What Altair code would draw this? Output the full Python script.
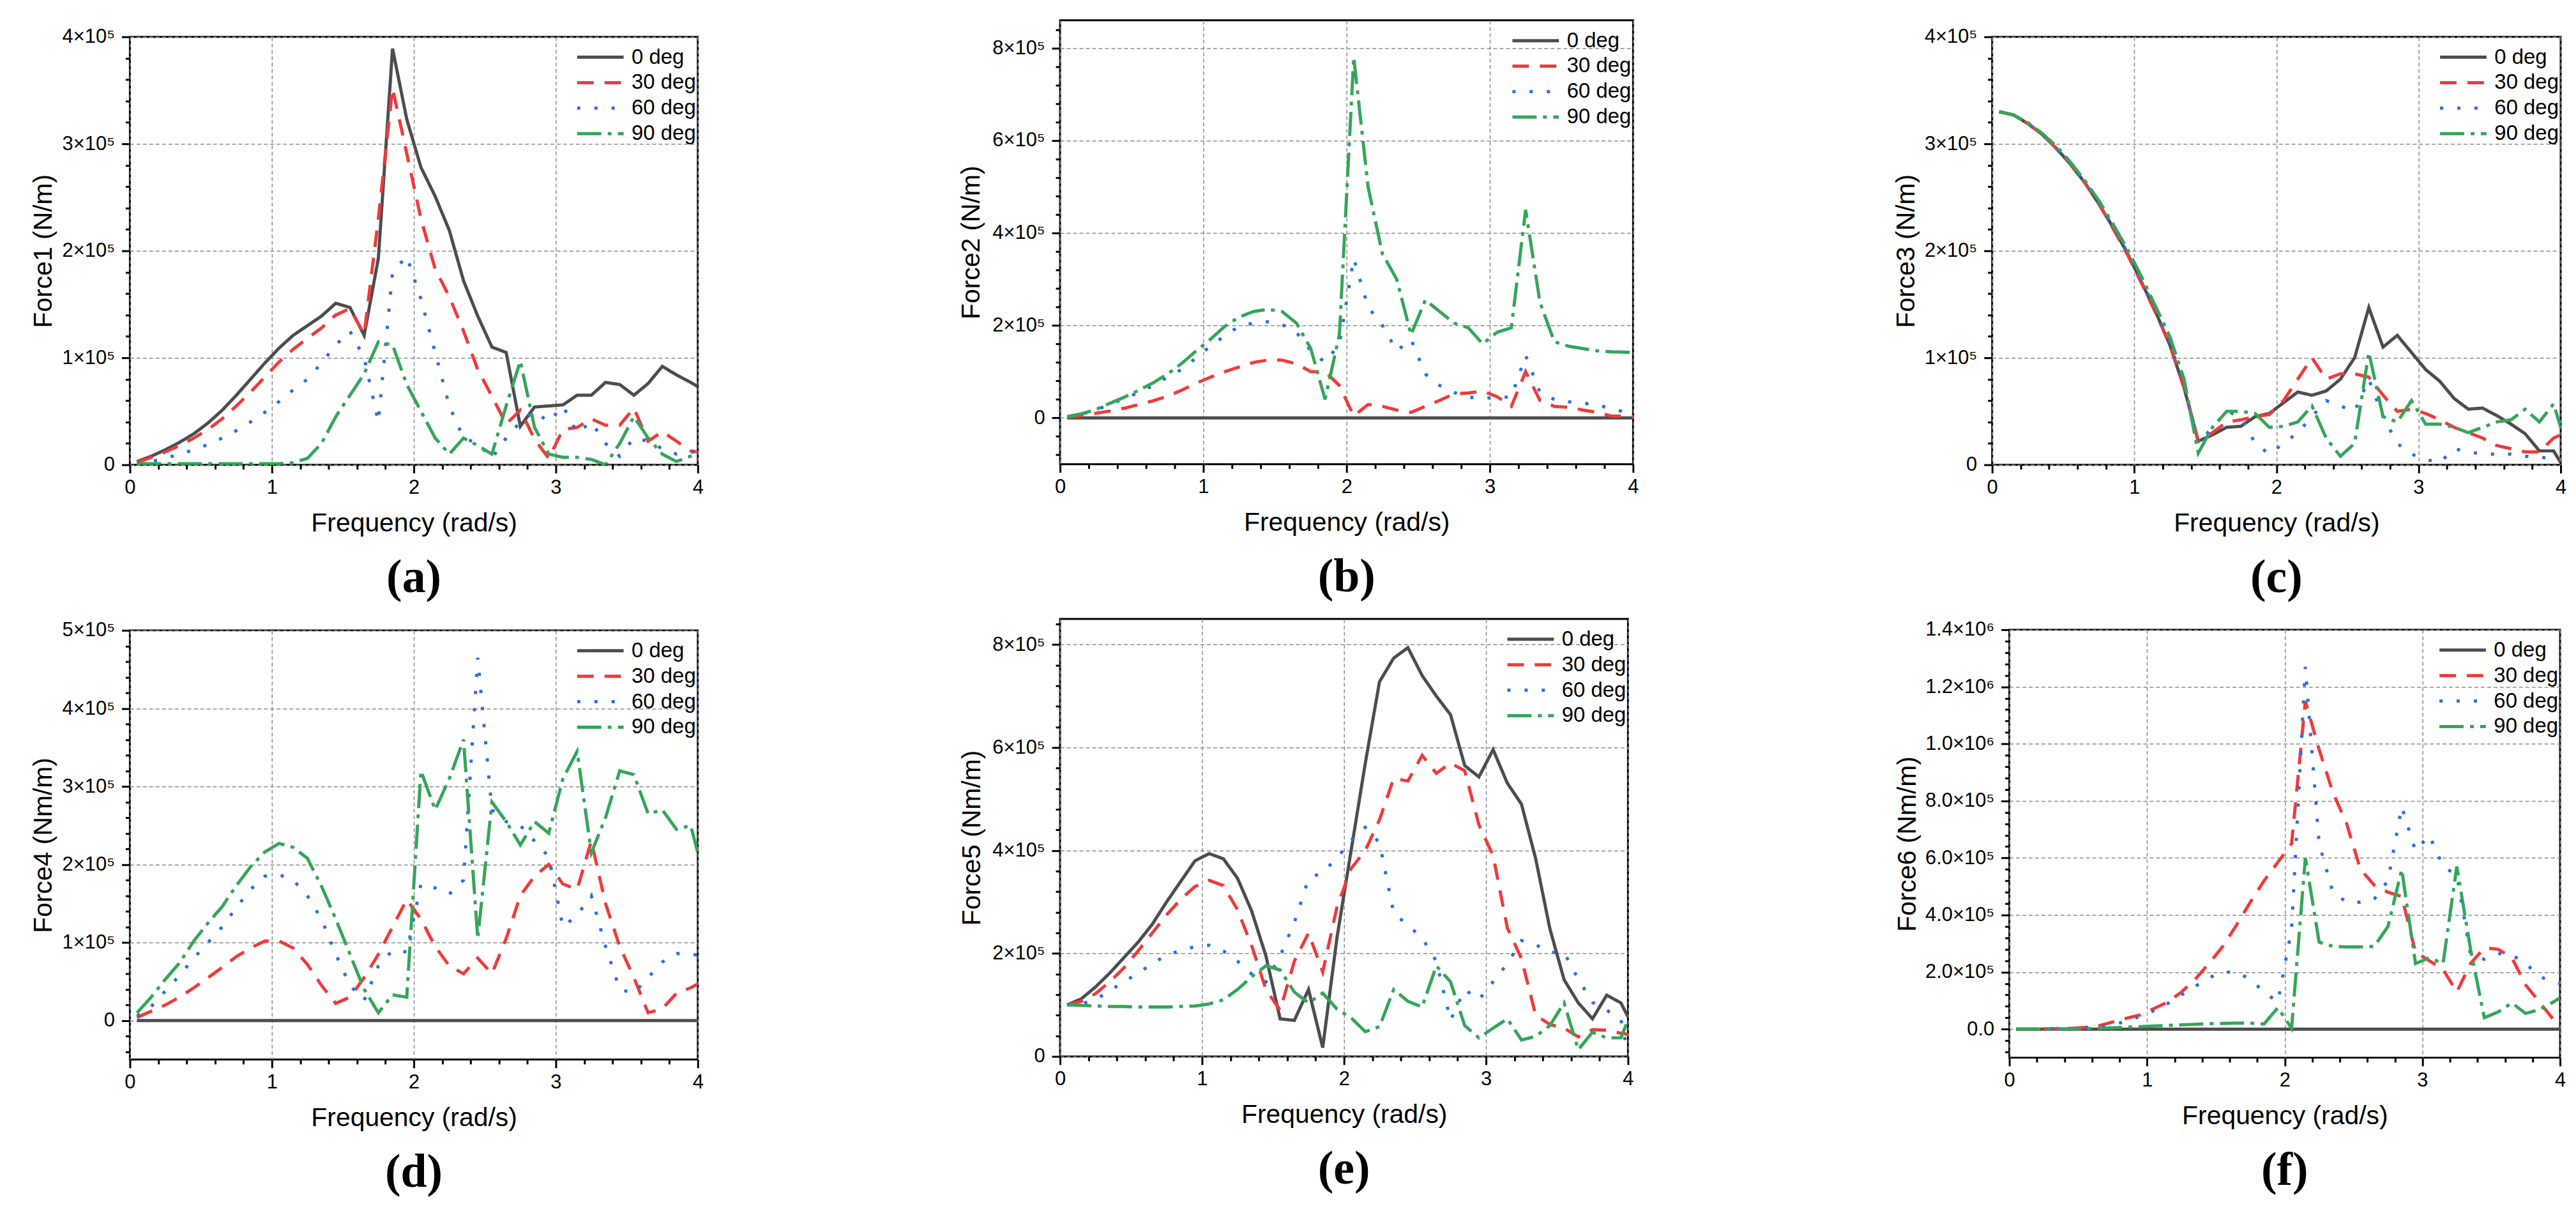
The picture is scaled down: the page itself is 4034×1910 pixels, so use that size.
import math
import altair as alt
import pandas as pd

# ---------------- data ----------------
freq = [0.05, 0.15, 0.25, 0.35, 0.45, 0.55, 0.65, 0.75, 0.85, 0.95,
        1.05, 1.15, 1.25, 1.35, 1.45, 1.55, 1.65, 1.75, 1.85, 1.95,
        2.05, 2.15, 2.25, 2.35, 2.45, 2.55, 2.65, 2.75, 2.85, 2.95,
        3.05, 3.15, 3.25, 3.35, 3.45, 3.55, 3.65, 3.75, 3.85, 3.95, 4.0]
series_names = ["0 deg", "30 deg", "60 deg", "90 deg"]
x_tick_labels = ["0", "1", "2", "3", "4"]

# Panel (a) Force1, unit 1e5 N/m
a_0 = [0.03, 0.08, 0.14, 0.21, 0.29, 0.39, 0.51, 0.65, 0.80, 0.95,
       1.09, 1.21, 1.30, 1.39, 1.51, 1.47, 1.21, 1.93, 3.89, 3.23,
       2.78, 2.51, 2.19, 1.72, 1.39, 1.10, 1.05, 0.36, 0.54, 0.55,
       0.56, 0.65, 0.65, 0.77, 0.75, 0.65, 0.76, 0.92, 0.84, 0.77, 0.73]
a_30 = [0.02, 0.07, 0.12, 0.18, 0.25, 0.33, 0.43, 0.55, 0.68, 0.82,
        0.96, 1.08, 1.18, 1.28, 1.40, 1.46, 1.22, 2.30, 3.52, 2.91,
        2.30, 1.83, 1.57, 1.25, 0.89, 0.64, 0.38, 0.51, 0.24, 0.06,
        0.33, 0.35, 0.43, 0.37, 0.37, 0.53, 0.22, 0.31, 0.22, 0.13, 0.12]
a_60 = [0.01, 0.03, 0.06, 0.10, 0.14, 0.19, 0.25, 0.32, 0.40, 0.49,
        0.59, 0.70, 0.80, 0.95, 1.12, 1.25, 1.00, 0.40, 1.80, 1.95,
        1.55, 1.05, 0.55, 0.25, 0.20, 0.06, 0.25, 0.40, 0.50, 0.40,
        0.55, 0.30, 0.40, 0.20, 0.08, 0.25, 0.22, 0.15, 0.10, 0.12, 0.12]
a_90 = [0.01, 0.01, 0.01, 0.01, 0.01, 0.01, 0.01, 0.01, 0.01, 0.01,
        0.01, 0.02, 0.06, 0.20, 0.45, 0.65, 0.85, 1.15, 1.12, 0.75,
        0.50, 0.25, 0.10, 0.25, 0.18, 0.10, 0.55, 0.97, 0.35, 0.10,
        0.07, 0.07, 0.05, 0.00, 0.20, 0.45, 0.25, 0.10, 0.03, 0.08, 0.10]

# Panel (b) Force2, unit 1e5 N/m
b_0 = [0.0] * 41
b_30 = [0.01, 0.05, 0.10, 0.15, 0.21, 0.29, 0.37, 0.47, 0.60, 0.75,
        0.88, 1.00, 1.10, 1.20, 1.25, 1.25, 1.17, 1.00, 1.00, 0.70,
        0.04, 0.29, 0.25, 0.17, 0.12, 0.25, 0.38, 0.52, 0.54, 0.58,
        0.46, 0.25, 1.00, 0.38, 0.25, 0.23, 0.17, 0.12, 0.04, 0.04, 0.04]
b_60 = [0.02, 0.08, 0.17, 0.30, 0.42, 0.55, 0.70, 0.88, 1.05, 1.30,
        1.55, 1.78, 1.98, 2.05, 2.08, 2.02, 1.85, 1.45, 1.20, 1.60,
        3.45, 2.40, 2.00, 1.45, 1.70, 0.95, 0.70, 0.55, 0.45, 0.42,
        0.45, 0.45, 1.35, 0.55, 0.40, 0.35, 0.32, 0.28, 0.20, 0.12, 0.10]
b_90 = [0.03, 0.09, 0.18, 0.32, 0.45, 0.60, 0.76, 0.95, 1.18, 1.45,
        1.70, 1.98, 2.18, 2.30, 2.35, 2.30, 2.05, 1.50, 0.40, 1.80,
        7.80, 5.00, 3.55, 3.00, 1.80, 2.55, 2.30, 2.05, 1.95, 1.60,
        1.85, 1.95, 4.50, 2.50, 1.65, 1.55, 1.50, 1.45, 1.43, 1.42, 1.42]

# Panel (c) Force3, unit 1e5 N/m
c_0 = [3.30, 3.27, 3.19, 3.09, 2.96, 2.81, 2.64, 2.44, 2.22, 1.98,
       1.71, 1.43, 1.12, 0.72, 0.22, 0.28, 0.35, 0.36, 0.45, 0.48,
       0.58, 0.68, 0.65, 0.69, 0.80, 1.00, 1.47, 1.10, 1.21, 1.05,
       0.89, 0.78, 0.62, 0.52, 0.53, 0.46, 0.38, 0.29, 0.13, 0.13, 0.02]
c_30 = [3.30, 3.27, 3.19, 3.09, 2.96, 2.81, 2.64, 2.44, 2.21, 1.97,
        1.70, 1.42, 1.12, 0.73, 0.22, 0.30, 0.40, 0.42, 0.45, 0.47,
        0.60, 0.80, 1.00, 0.80, 0.85, 0.85, 0.82, 0.65, 0.50, 0.52,
        0.48, 0.42, 0.35, 0.30, 0.25, 0.18, 0.15, 0.12, 0.12, 0.25, 0.28]
c_60 = [3.30, 3.27, 3.19, 3.09, 2.96, 2.81, 2.64, 2.45, 2.23, 1.99,
        1.72, 1.45, 1.14, 0.74, 0.20, 0.35, 0.50, 0.45, 0.20, 0.10,
        0.20, 0.30, 0.45, 0.60, 0.55, 0.50, 0.80, 0.45, 0.20, 0.10,
        0.05, 0.02, 0.15, 0.12, 0.10, 0.10, 0.10, 0.08, 0.07, 0.06, 0.05]
c_90 = [3.30, 3.27, 3.20, 3.10, 2.98, 2.83, 2.66, 2.47, 2.25, 2.02,
        1.76, 1.48, 1.20, 0.80, 0.11, 0.35, 0.50, 0.50, 0.48, 0.35,
        0.36, 0.40, 0.55, 0.25, 0.08, 0.20, 1.05, 0.45, 0.40, 0.60,
        0.38, 0.38, 0.35, 0.30, 0.35, 0.40, 0.42, 0.52, 0.40, 0.57, 0.35]

# Panel (d) Force4, unit 1e5 Nm/m
d_0 = [0.0] * 41
d_30 = [0.04, 0.12, 0.20, 0.30, 0.42, 0.55, 0.68, 0.82, 0.93, 1.02,
        1.02, 0.93, 0.72, 0.45, 0.22, 0.30, 0.55, 0.85, 1.20, 1.55,
        1.30, 0.95, 0.70, 0.60, 0.80, 0.60, 1.05, 1.60, 1.85, 2.00,
        1.75, 1.68, 2.30, 1.50, 0.95, 0.55, 0.10, 0.15, 0.35, 0.42, 0.47]
d_60 = [0.06, 0.18, 0.38, 0.58, 0.80, 1.00, 1.20, 1.45, 1.68, 1.85,
        1.87, 1.80, 1.60, 1.30, 0.85, 0.45, 0.26, 0.70, 0.90, 0.88,
        1.75, 1.70, 1.62, 1.80, 4.65, 2.70, 2.55, 2.50, 2.30, 2.10,
        1.20, 1.35, 1.60, 0.95, 0.40, 0.35, 0.55, 0.75, 0.86, 0.85, 0.84]
d_90 = [0.10, 0.30, 0.53, 0.74, 1.02, 1.25, 1.46, 1.73, 1.97, 2.16,
        2.27, 2.22, 2.08, 1.72, 1.30, 0.85, 0.40, 0.10, 0.33, 0.30,
        3.20, 2.70, 3.10, 3.60, 1.05, 2.80, 2.55, 2.25, 2.55, 2.40,
        3.10, 3.45, 2.15, 2.60, 3.20, 3.15, 2.65, 2.70, 2.45, 2.50, 2.15]

# Panel (e) Force5, unit 1e5 Nm/m
e_0 = [1.00, 1.12, 1.35, 1.62, 1.92, 2.22, 2.57, 3.00, 3.40, 3.80,
       3.94, 3.84, 3.46, 2.82, 1.95, 0.73, 0.70, 1.30, 0.17, 2.30,
       4.00, 5.70, 7.28, 7.74, 7.94, 7.40, 7.00, 6.64, 5.65, 5.43,
       5.96, 5.31, 4.90, 3.84, 2.48, 1.49, 1.04, 0.73, 1.19, 1.04, 0.77]
e_30 = [1.00, 1.07, 1.22, 1.45, 1.72, 2.05, 2.40, 2.75, 3.05, 3.30,
        3.42, 3.32, 2.85, 2.15, 1.30, 0.90, 1.85, 2.40, 1.64, 2.90,
        3.65, 4.00, 4.60, 5.40, 5.35, 5.85, 5.50, 5.70, 5.55, 4.50,
        3.90, 2.50, 1.90, 0.80, 0.62, 0.55, 0.38, 0.52, 0.51, 0.45, 0.43]
e_60 = [1.00, 1.02, 1.10, 1.28, 1.45, 1.62, 1.80, 1.97, 2.06, 2.13,
        2.16, 2.05, 1.85, 1.60, 1.45, 1.95, 2.60, 3.45, 3.58, 3.85,
        4.20, 4.45, 4.15, 2.78, 2.55, 2.30, 1.85, 0.70, 1.30, 1.10,
        1.45, 1.80, 2.25, 2.17, 2.02, 2.02, 1.50, 1.05, 0.90, 0.72, 0.05]
e_90 = [1.00, 0.99, 0.98, 0.97, 0.97, 0.96, 0.96, 0.96, 0.97, 0.98,
        1.02, 1.10, 1.30, 1.55, 1.76, 1.68, 1.25, 1.04, 1.23, 0.92,
        0.75, 0.48, 0.58, 1.30, 1.07, 0.96, 1.76, 1.45, 0.60, 0.36,
        0.55, 0.73, 0.32, 0.39, 0.60, 1.04, 0.13, 0.47, 0.36, 0.36, 0.70]

# Panel (f) Force6, unit 1e5 Nm/m
f_0 = [0.0] * 41
f_30 = [0.00, 0.00, 0.01, 0.02, 0.03, 0.06, 0.12, 0.25, 0.38, 0.50,
        0.72, 0.95, 1.30, 1.75, 2.30, 2.90, 3.65, 4.45, 5.20, 5.85,
        6.50, 11.50, 9.80, 8.30, 7.20, 5.60, 5.05, 4.80, 4.65, 2.70,
        2.40, 2.10, 1.30, 2.30, 2.85, 2.80, 2.50, 1.55, 0.95, 0.35, 0.25]
f_60 = [0.00, 0.00, 0.01, 0.02, 0.03, 0.05, 0.08, 0.15, 0.28, 0.45,
        0.65, 0.90, 1.20, 1.50, 1.80, 2.00, 2.00, 1.75, 1.30, 0.95,
        3.50, 12.70, 6.50, 4.80, 4.45, 4.45, 4.55, 5.20, 7.80, 6.25,
        6.80, 5.70, 5.40, 2.60, 2.45, 2.65, 2.60, 2.30, 1.85, 1.65, 1.60]
f_90 = [0.00, 0.00, 0.00, 0.01, 0.01, 0.02, 0.03, 0.05, 0.07, 0.09,
        0.11, 0.13, 0.15, 0.17, 0.19, 0.20, 0.21, 0.21, 0.18, 0.75,
        0.03, 6.00, 3.05, 2.90, 2.88, 2.88, 2.90, 3.60, 5.60, 2.30,
        2.50, 2.30, 5.70, 2.80, 0.40, 0.60, 0.92, 0.55, 0.68, 0.95, 1.10]

UNIT = 1e5

# ---------------- styles ----------------
colors = ["#4d4d4d", "#ee3b3b", "#2a6fe0", "#35a55a"]
dashes = [[1, 0], [26, 17], [5, 22], [38, 10, 6, 10]]
SANS = "Liberation Sans, Arial, sans-serif"
SERIF = "Liberation Serif, Times New Roman, serif"


def table(arrs):
    rows = []
    for name, arr in zip(series_names, arrs):
        for f, v in zip(freq, arr):
            rows.append({"freq": f, "value": v * UNIT, "series": name})
    return pd.DataFrame(rows)


def multiples(lo, hi, step):
    k0 = math.ceil(lo / step - 1e-9)
    k1 = math.floor(hi / step + 1e-9)
    return [round(k * step, 6) for k in range(k0, k1 + 1)]


def major_test(step):
    return f"abs(datum.value/{step} - round(datum.value/{step})) < 1e-6"


def make_panel(arrs, ytitle, ydomain, ymajor, yminor, kind, width, height,
               label, ytitlepad):
    df = table(arrs)
    mt = major_test(ymajor)
    if kind == "f":
        lexpr = (f"datum.value == 0 ? '0.0' : !({mt}) ? '' : "
                 "datum.value >= 999999 ? format(datum.value/1000000, '.1f') + '×10⁶' : "
                 "format(datum.value/100000, '.1f') + '×10⁵'")
    else:
        lexpr = (f"datum.value == 0 ? '0' : ({mt}) ? "
                 "format(round(datum.value/100000), 'd') + '×10⁵' : ''")
    xmt = major_test(1)
    xlabels = "[" + ",".join("'" + t + "'" for t in x_tick_labels) + "]"
    xaxis = alt.Axis(
        values=multiples(0, 4, 0.2),
        labelExpr=f"({xmt}) ? {xlabels}[round(datum.value)] : ''",
        tickSize={"condition": {"test": xmt, "value": 13}, "value": 7},
        gridOpacity={"condition": {"test": xmt, "value": 1}, "value": 0},
        title="Frequency (rad/s)", titlePadding=22,
        minExtent=50, maxExtent=50, labelPadding=8,
        labelOverlap=False, labelFlush=False,
    )
    yaxis = alt.Axis(
        values=multiples(ydomain[0], ydomain[1], yminor),
        labelExpr=lexpr,
        tickSize={"condition": {"test": mt, "value": 13}, "value": 7},
        gridOpacity={"condition": {"test": mt, "value": 1}, "value": 0},
        title=ytitle, titlePadding=ytitlepad,
        minExtent=90, maxExtent=90, labelPadding=11,
        labelOverlap=False,
    )
    legend = alt.Legend(
        title=None, orient="none", legendX=width - 192, legendY=12, padding=0,
        symbolType="stroke", symbolSize=5329, symbolStrokeWidth=5,
        clipHeight=40, rowPadding=0, labelOffset=10,
        labelFont=SANS, labelFontSize=33, labelColor="black",
    )
    chart = alt.Chart(df).mark_line(strokeWidth=5, clip=True, strokeCap="butt").encode(
        x=alt.X("freq:Q", scale=alt.Scale(domain=[0, 4], nice=False), axis=xaxis),
        y=alt.Y("value:Q", scale=alt.Scale(domain=ydomain, nice=False, zero=False),
                axis=yaxis),
        color=alt.Color("series:N", scale=alt.Scale(domain=series_names, range=colors),
                        legend=legend),
        strokeDash=alt.StrokeDash("series:N",
                                  scale=alt.Scale(domain=series_names, range=dashes),
                                  legend=legend),
        order=alt.Order("series:N"),
    ).properties(
        width=width, height=height,
        title=alt.TitleParams(label, orient="bottom", font=SERIF, fontSize=74,
                              fontWeight="bold", offset=30, color="black",
                              anchor="middle"),
    )
    return chart


def spacer(w, h):
    return alt.Chart(pd.DataFrame({"z": [0]})).mark_point(opacity=0).encode(
        x=alt.value(0), y=alt.value(0)
    ).properties(width=w, height=h,
                 view=alt.ViewBackground(stroke="transparent", strokeWidth=0))


def indep(c):
    return c.resolve_scale(color="independent", strokeDash="independent").resolve_legend(
        color="independent", strokeDash="independent")


pa = make_panel([a_0, a_30, a_60, a_90], "Force1 (N/m)", [0, 4e5], 1e5, 2e4,
                "i", 892, 672, "(a)", 24)
pb = make_panel([b_0, b_30, b_60, b_90], "Force2 (N/m)", [-1e5, 8.6e5], 2e5, 4e4,
                "i", 900, 697, "(b)", 28)
pc = make_panel([c_0, c_30, c_60, c_90], "Force3 (N/m)", [0, 4e5], 1e5, 2e4,
                "i", 893, 672, "(c)", 24)
pd_ = make_panel([d_0, d_30, d_60, d_90], "Force4 (Nm/m)", [-5e4, 5e5], 1e5, 2e4,
                 "i", 892, 674, "(d)", 24)
pe = make_panel([e_0, e_30, e_60, e_90], "Force5 (Nm/m)", [0, 8.5e5], 2e5, 4e4,
                "i", 892, 687, "(e)", 27)
pf = make_panel([f_0, f_30, f_60, f_90], "Force6 (Nm/m)", [-1e5, 1.4e6], 2e5, 4e4,
                "f", 865, 672, "(f)", 49)

# columns: unit charts stacked with spacers (flush layout inside a column)
col1 = indep(alt.vconcat(spacer(892, 26), pa, spacer(892, 260), pd_,
                         spacing=0, bounds="flush"))
col2 = indep(alt.vconcat(pb, spacer(900, 243), pe, spacing=0, bounds="flush"))
f_row = indep(alt.hconcat(spacer(27, 1), pf, spacing=0, bounds="flush"))
col3 = indep(alt.vconcat(spacer(893, 26), pc, spacer(893, 259), f_row,
                         spacing=0, bounds="flush"))

chart = indep(alt.hconcat(col1, spacer(393, 1), col2, spacer(392, 1), col3,
                          spacing=0, bounds="full")).properties(
    padding={"left": 38, "top": 18, "right": 5, "bottom": 5},
    background="white",
).configure_view(
    stroke="black", strokeWidth=3
).configure_axis(
    labelFont=SANS, labelFontSize=31, labelColor="black",
    titleFont=SANS, titleFontSize=41, titleFontWeight="normal", titleColor="black",
    tickColor="black", tickWidth=3, tickSize=13, domain=False,
    gridColor="#8c8c8c", gridDash=[6, 4], gridWidth=1.5,
)

chart.save("out.html", embed_options={"renderer": "svg", "actions": False})
